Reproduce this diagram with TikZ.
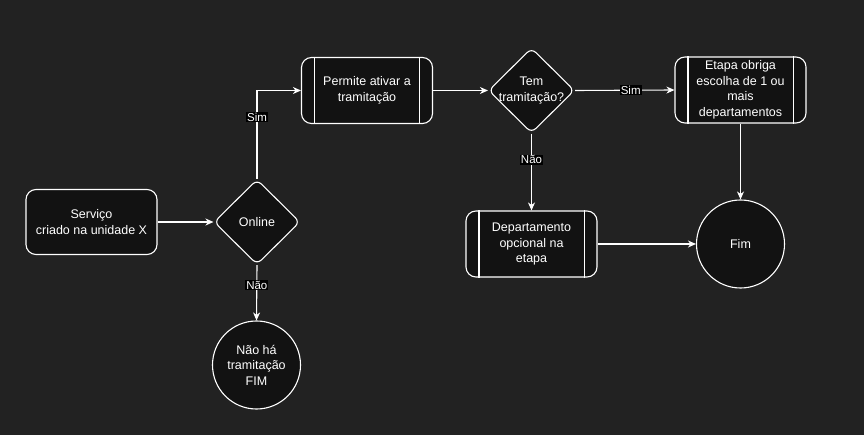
\documentclass[tikz,border=0pt]{standalone}
\usepackage{fontspec}
\setmainfont{Liberation Sans}
\usetikzlibrary{shapes.geometric,arrows.meta,calc}
\definecolor{bgc}{HTML}{222222}
\definecolor{nodefill}{HTML}{121212}
\begin{document}
\begin{tikzpicture}[x=1pt,y=-1pt,
  every node/.style={text=white, font=\fontsize{12.5}{15.5}\selectfont},
  box/.style={draw=white, fill=nodefill, rounded corners=10pt, line width=1.1pt, minimum width=131pt, minimum height=65pt, align=center, inner sep=0pt},
  procbox/.style={box, minimum height=66pt},
  decision/.style={draw=white, fill=nodefill, diamond, rounded corners=6pt, line width=1.1pt, minimum width=86pt, minimum height=85pt, inner sep=0pt},
  endcircle/.style={draw=white, fill=nodefill, circle, line width=1.1pt, minimum size=88pt, inner sep=0pt, align=center},
  txt/.style={align=center, inner sep=0pt},
  conn/.style={draw=white, line width=1.1pt, -{Stealth[length=8pt,width=7pt,inset=2.5pt]}},
  lbl/.style={fill=black, inner sep=1pt, font=\fontsize{11.5}{13}\selectfont},
  sideline/.style={draw=white, line width=1.1pt}
]
\useasboundingbox[fill=bgc] (0,0) rectangle (864,435);

% nodes
\node[box] (serv) at (91.5,222) {Serviço\\criado na unidade X};
\node[decision] (online) at (257,222) {};
\node[txt] (onlinetxt) at (257,222) {Online};
\node[procbox] (perm) at (367,90.5) {Permite ativar a\\tramitação};
\node[decision] (tem) at (531.5,90.5) {};
\node[txt] (temtxt) at (531.5,90.5) {Tem\\tramitação?};
\node[procbox] (etapa) at (740.5,90) {Etapa obriga\\escolha de 1 ou\\mais\\departamentos};
\node[procbox] (dept) at (531.5,244) {Departamento\\opcional na\\etapa};
\node[endcircle] (fim) at (740.5,244) {Fim};
\node[endcircle] (nao) at (256.5,365) {Não há\\tramitação\\FIM};

% inner side lines of process boxes
\foreach \n in {perm,etapa,dept}{
  \draw[sideline] ($(\n.north west)+(13.5,0)$) -- ($(\n.south west)+(13.5,0)$);
  \draw[sideline] ($(\n.north east)+(-13.5,0)$) -- ($(\n.south east)+(-13.5,0)$);
}

% connectors
\draw[conn] (serv) -- (online);
\draw[conn] (online.north) |- node[lbl, pos=0.35] (lsim1) {Sim} (perm.west);
\draw[conn] (perm) -- (tem);
\draw[conn] (tem.east) -- node[lbl, pos=0.56] (lsim2) {Sim} (etapa.west);
\draw[conn] (tem.south) -- node[lbl, pos=0.34] (lnao1) {Não} (dept.north);
\draw[conn] (etapa.south) -- (fim.north);
\draw[conn] (dept.east) -- (fim.west);
\draw[conn] (online.south) -- node[lbl, pos=0.36] (lnao2) {Não} (nao.north);
\end{tikzpicture}
\end{document}
